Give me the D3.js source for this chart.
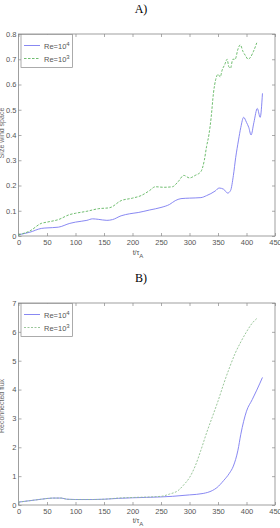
<!DOCTYPE html>
<html>
<head>
<meta charset="utf-8">
<script src="https://cdn.jsdelivr.net/npm/d3@7"></script>
<style>
  body { margin: 0; background: #fff; }
  text { font-family: "Liberation Sans", Arial, sans-serif; }
</style>
</head>
<body>
<div id="chart"></div>
<script>
const width = 280;
const height = 528;

// panel A: size of island / current sheet vs time
const timeA4 = [0, 20, 40, 50, 70, 90, 100, 120, 130, 140, 155, 165, 180, 195, 210, 230, 250, 265, 275, 285, 300, 320, 330, 345, 352, 360, 367, 372, 377, 381, 386, 390, 395, 400, 404, 408, 413, 419, 424, 428];
const sizeA4 = [0.005, 0.015, 0.03, 0.032, 0.035, 0.05, 0.055, 0.062, 0.068, 0.066, 0.062, 0.065, 0.08, 0.088, 0.093, 0.103, 0.113, 0.125, 0.14, 0.148, 0.15, 0.152, 0.16, 0.178, 0.19, 0.185, 0.17, 0.18, 0.24, 0.31, 0.38, 0.43, 0.47, 0.45, 0.43, 0.40, 0.45, 0.505, 0.47, 0.565];

const timeA3 = [0, 20, 40, 50, 70, 90, 100, 120, 140, 160, 180, 200, 215, 230, 240, 255, 270, 280, 290, 300, 310, 320, 326, 330, 334, 338, 342, 346, 350, 354, 357, 362, 366, 369, 372, 376, 380, 385, 389, 394, 398, 403, 407, 412, 418];
const sizeA3 = [0.005, 0.02, 0.05, 0.055, 0.065, 0.085, 0.09, 0.098, 0.108, 0.112, 0.14, 0.15, 0.16, 0.18, 0.195, 0.193, 0.195, 0.215, 0.24, 0.23, 0.24, 0.255, 0.3, 0.355, 0.40, 0.47, 0.565, 0.62, 0.64, 0.63, 0.655, 0.68, 0.70, 0.67, 0.665, 0.70, 0.70, 0.74, 0.757, 0.73, 0.715, 0.70, 0.708, 0.73, 0.765];

// panel B: reconnected flux vs time
const timeB4 = [0, 20, 40, 60, 75, 85, 100, 130, 150, 175, 200, 250, 270, 300, 324, 340, 348, 360, 370, 377, 385, 390, 395, 400, 410, 418, 428];
const fluxB4 = [0.1, 0.15, 0.2, 0.24, 0.24, 0.2, 0.19, 0.19, 0.2, 0.23, 0.25, 0.28, 0.30, 0.35, 0.40, 0.5, 0.6, 0.85, 1.1, 1.35, 1.9, 2.45, 2.9, 3.25, 3.65, 3.98, 4.42];

const timeB3 = [0, 20, 40, 60, 75, 85, 100, 130, 150, 175, 200, 250, 265, 280, 290, 300, 310, 320, 330, 340, 350, 360, 370, 380, 390, 400, 410, 418];
const fluxB3 = [0.1, 0.15, 0.2, 0.24, 0.24, 0.2, 0.19, 0.19, 0.2, 0.24, 0.26, 0.3, 0.38, 0.5, 0.7, 0.95, 1.35, 1.9, 2.5, 3.05, 3.6, 4.2, 4.75, 5.25, 5.65, 6.0, 6.3, 6.46];

const xTicks = [0, 50, 100, 150, 200, 250, 300, 350, 400, 450];
const yTicksA = [0, 0.1, 0.2, 0.3, 0.4, 0.5, 0.6, 0.7, 0.8];
const yTicksB = [0, 1, 2, 3, 4, 5, 6, 7];
const legendNames = ['4', '3'];

const svg = d3.select('#chart')
              .append('svg')
              .attr('width', width)
              .attr('height', height);

function drawPanel(cfg) {
  const left = 18.5, right = 275;
  const top = cfg.top, bottom = cfg.bottom;

  const xScale = d3.scaleLinear().domain([0, 450]).range([left, right]);
  const yScale = d3.scaleLinear().domain([0, cfg.yMax]).range([bottom, top]);

  // title
  svg.append('text')
     .attr('x', 141)
     .attr('y', top - 21)
     .attr('text-anchor', 'middle')
     .style('font-family', '"Liberation Serif", "Times New Roman", serif')
     .style('font-size', '12px')
     .text(cfg.title);

  // frame
  svg.append('rect')
     .attr('x', left).attr('y', top)
     .attr('width', right - left).attr('height', bottom - top)
     .attr('fill', 'none').attr('stroke', '#888').attr('stroke-width', 0.8);

  const tickLen = 3;
  const xAxis = d3.axisBottom(xScale).tickValues(xTicks).tickSizeInner(-tickLen).tickSizeOuter(0).tickPadding(4);
  const xTop = d3.axisTop(xScale).tickValues(xTicks).tickSizeInner(-tickLen).tickSizeOuter(0).tickFormat('');
  const yAxis = d3.axisLeft(yScale).tickValues(cfg.yTicks).tickSizeInner(-tickLen).tickSizeOuter(0).tickPadding(2).tickFormat(cfg.fmt);
  const yRight = d3.axisRight(yScale).tickValues(cfg.yTicks).tickSizeInner(-tickLen).tickSizeOuter(0).tickFormat('');

  svg.append('g').attr('transform', 'translate(0,' + bottom + ')').call(xAxis);
  svg.append('g').attr('transform', 'translate(0,' + top + ')').call(xTop);
  svg.append('g').attr('transform', 'translate(' + left + ',0)').call(yAxis);
  svg.append('g').attr('transform', 'translate(' + right + ',0)').call(yRight);

  svg.selectAll('.domain').remove();
  svg.selectAll('.tick line').attr('stroke', '#888').attr('stroke-width', 0.7);
  svg.selectAll('.tick text').attr('fill', '#555').style('font-size', '7.5px').style('font-family', '"Liberation Sans", Arial, sans-serif');

  // x label t/τA
  const xl = svg.append('text')
     .attr('x', 138)
     .attr('y', bottom + cfg.xLabelDy)
     .attr('fill', '#555')
     .style('font-size', '7px')
     .attr('text-anchor', 'middle');
  xl.append('tspan').text('t/τ');
  xl.append('tspan').attr('dy', 3).style('font-size', '6px').text('A');

  // y label (cut at the left edge, as in the source figure)
  svg.append('text')
     .attr('transform', 'translate(' + 4 + ',' + cfg.yLabelY + ') rotate(-90)')
     .attr('text-anchor', 'middle')
     .attr('fill', '#666')
     .style('font-size', '7px')
     .text(cfg.yLabel);

  const line = d3.line()
                 .x(d => xScale(d[0]))
                 .y(d => yScale(d[1]))
                 .curve(d3.curveMonotoneX);

  cfg.series.forEach(s => {
    svg.append('path')
       .datum(d3.zip(s.t, s.v))
       .attr('d', line)
       .attr('fill', 'none')
       .attr('stroke', s.color)
       .attr('stroke-width', 0.9)
       .attr('stroke-dasharray', s.dash);
  });

  // legend
  const lg = svg.append('g').attr('transform', 'translate(21,' + (top + 0.5) + ')');
  lg.append('rect')
    .attr('width', 51.5).attr('height', 33)
    .attr('fill', '#fff').attr('stroke', '#888').attr('stroke-width', 0.7);
  cfg.series.forEach((s, i) => {
    const yy = 11 + i * 13;
    lg.append('line')
      .attr('x1', 3).attr('x2', 19).attr('y1', yy).attr('y2', yy)
      .attr('stroke', s.color).attr('stroke-width', 0.9)
      .attr('stroke-dasharray', s.dash);
    const tx = lg.append('text')
      .attr('x', 23).attr('y', yy + 3)
      .attr('fill', '#555')
      .style('font-size', '7.5px');
    tx.append('tspan').text('Re=10');
    tx.append('tspan').attr('dy', -3).style('font-size', '6px').text(legendNames[i]);
  });
}

drawPanel({
  title: 'A)',
  top: 34, bottom: 236, yMax: 0.8,
  yTicks: yTicksA,
  fmt: d => d === 0 ? '0' : d3.format('.1f')(d),
  yLabel: 'Size wind space',
  yLabelY: 133,
  xLabelDy: 19,
  series: [
    { t: timeA4, v: sizeA4, color: '#7b7bf0', dash: null },
    { t: timeA3, v: sizeA3, color: '#5fb55f', dash: '2.5,1.5' }
  ]
});

drawPanel({
  title: 'B)',
  top: 303, bottom: 505, yMax: 7,
  yTicks: yTicksB,
  fmt: d3.format('d'),
  yLabel: 'Reconnected flux',
  yLabelY: 406,
  xLabelDy: 18,
  series: [
    { t: timeB4, v: fluxB4, color: '#7b7bf0', dash: null },
    { t: timeB3, v: fluxB3, color: '#8fbf8f', dash: '2,1.5' }
  ]
});
</script>
</body>
</html>
